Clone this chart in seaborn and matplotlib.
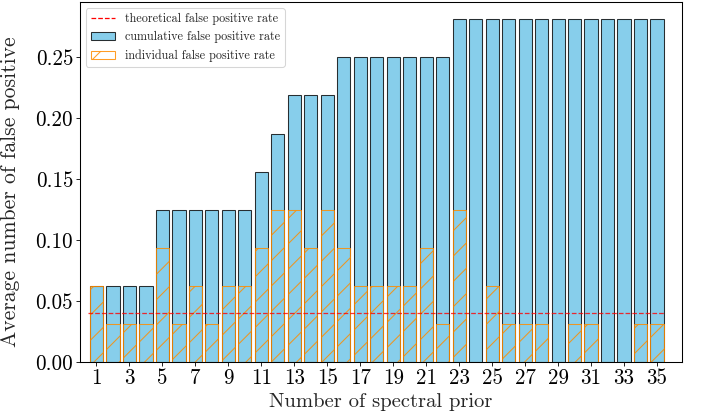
import numpy as np
import pandas as pd
import matplotlib
matplotlib.use("Agg")
import matplotlib.pyplot as plt
import seaborn as sns
from matplotlib.lines import Line2D
from matplotlib.patches import Patch

# ── Data ──────────────────────────────────────────────────────────────
n_prior = list(range(1, 36))
cumulative_fpr = [0.0625, 0.0625, 0.0625, 0.0625,
                  0.125, 0.125, 0.125, 0.125, 0.125, 0.125,
                  0.15625, 0.1875, 0.21875, 0.21875, 0.21875,
                  0.25, 0.25, 0.25, 0.25, 0.25, 0.25, 0.25,
                  0.28125, 0.28125, 0.28125, 0.28125, 0.28125, 0.28125,
                  0.28125, 0.28125, 0.28125, 0.28125, 0.28125, 0.28125, 0.28125]
individual_fpr = [0.0625, 0.03125, 0.03125, 0.03125,
                  0.09375, 0.03125, 0.0625, 0.03125, 0.0625, 0.0625,
                  0.09375, 0.125, 0.125, 0.09375, 0.125,
                  0.09375, 0.0625, 0.0625, 0.0625, 0.0625, 0.09375, 0.03125,
                  0.125, 0.0, 0.0625, 0.03125, 0.03125, 0.03125,
                  0.0, 0.03125, 0.03125, 0.0, 0.0, 0.03125, 0.03125]
theoretical_fpr = 0.04
xticks = list(range(1, 36, 2))

# ── Style ─────────────────────────────────────────────────────────────
sns.set_theme(style="ticks")
plt.rcParams["font.family"] = "serif"
plt.rcParams["font.serif"] = ["cmr10", "DejaVu Serif"]
plt.rcParams["mathtext.fontset"] = "cm"
plt.rcParams["axes.formatter.use_mathtext"] = True
plt.rcParams["axes.edgecolor"] = "black"
plt.rcParams["xtick.color"] = "black"
plt.rcParams["ytick.color"] = "black"

df = pd.DataFrame({"prior": n_prior, "cum": cumulative_fpr, "ind": individual_fpr})

# dpi 76 so the hatch spacing matches the reference
DPI = 76
fig = plt.figure(figsize=(703 / DPI, 416 / DPI), dpi=DPI)
ax = fig.add_axes([0.1138, 0.1298, 0.856, 0.865])

ORANGE = (1.0, 0.55, 0.0, 0.85)

sns.barplot(data=df, x="prior", y="cum", native_scale=True, ax=ax,
            color="skyblue", saturation=1, width=0.8,
            edgecolor=(0, 0, 0, 0.8), linewidth=1.0)
sns.barplot(data=df, x="prior", y="ind", native_scale=True, ax=ax,
            color="darkorange", saturation=1, width=0.8, fill=False,
            hatch="/", linewidth=1.0, alpha=0.85)
ax.hlines(theoretical_fpr, 0.5, 35.5, colors="red", linestyles="--",
          linewidth=1.2, alpha=0.8, zorder=5)

ax.set_xlim(0, 36.5)
ax.set_ylim(0, 0.2953)
ax.set_xticks(xticks)
ax.set_xticklabels([str(t) for t in xticks])
ax.set_yticks([0, 0.05, 0.10, 0.15, 0.20, 0.25])
ax.set_yticklabels(["0.00", "0.05", "0.10", "0.15", "0.20", "0.25"])
ax.tick_params(axis="both", labelsize=20, length=3.5, width=0.8, pad=3)
ax.set_xlabel("Number of spectral prior", fontsize=19.5)
ax.set_ylabel("Average number of false positive", fontsize=20.5)
ax.yaxis.set_label_coords(-0.1, 0.472)
for s in ax.spines.values():
    s.set_linewidth(1.0)
    s.set_visible(True)

handles = [
    Line2D([0], [0], color="red", linestyle="--", linewidth=1.2),
    Patch(facecolor="skyblue", edgecolor=(0, 0, 0, 0.8)),
    Patch(facecolor="none", edgecolor=ORANGE, hatch="/"),
]
labels = ["theoretical false positive rate", "cumulative false positive rate",
          "individual false positive rate"]
ax.legend(handles, labels, loc="upper left", fontsize=11.5, frameon=True,
          fancybox=True, framealpha=0.8, edgecolor="0.8")

fig.savefig("out.png", dpi=DPI)
